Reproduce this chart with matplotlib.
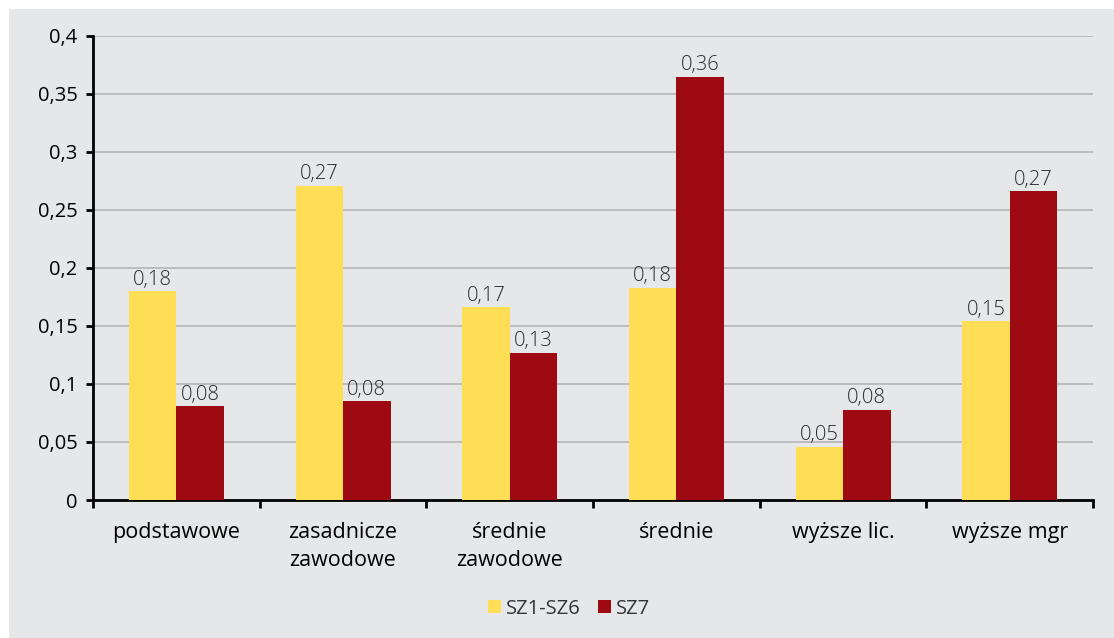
import matplotlib
matplotlib.use("Agg")
import matplotlib.pyplot as plt
import numpy as np
from matplotlib.patches import Rectangle

categories = ["podstawowe", "zasadnicze\nzawodowe", "średnie\nzawodowe", "średnie", "wyższe lic.", "wyższe mgr"]
sz1_sz6 = [0.180, 0.271, 0.166, 0.183, 0.046, 0.154]
sz7 = [0.081, 0.085, 0.127, 0.365, 0.078, 0.266]
sz1_sz6_labels = ["0,18", "0,27", "0,17", "0,18", "0,05", "0,15"]
sz7_labels = ["0,08", "0,08", "0,13", "0,36", "0,08", "0,27"]
yticks = [0, 0.05, 0.1, 0.15, 0.2, 0.25, 0.3, 0.35, 0.4]
ytick_labels = ["0", "0,05", "0,1", "0,15", "0,2", "0,25", "0,3", "0,35", "0,4"]

bg = "#e6e7e9"
yellow = "#ffdd55"
red = "#9e0a11"

plt.rcParams["font.family"] = ["Open Sans", "DejaVu Sans"]

fig = plt.figure(figsize=(11.14, 6.38), dpi=100)
fig.patch.set_facecolor("white")
fig.patches.append(Rectangle((9 / 1114, 0), 1 - 9 / 1114, 1 - 9 / 638,
                             transform=fig.transFigure, facecolor=bg,
                             edgecolor="none", zorder=-10))
ax = fig.add_axes([93 / 1114, 1 - 500 / 638, 1000 / 1114, 464 / 638])
ax.set_facecolor(bg)

x = np.arange(len(categories))
w = 0.285
b1 = ax.bar(x - w / 2, sz1_sz6, w, color=yellow, label="SZ1-SZ6", zorder=3)
b2 = ax.bar(x + w / 2, sz7, w, color=red, label="SZ7", zorder=3)

for bars, labs in ((b1, sz1_sz6_labels), (b2, sz7_labels)):
    for bar, lab in zip(bars, labs):
        ax.annotate(lab, (bar.get_x() + bar.get_width() / 2, bar.get_height()),
                    xytext=(0, 1), textcoords="offset points",
                    ha="center", va="bottom", fontsize=14.5, color="#2a2a2a",
                    fontweight="light")

ax.set_xlim(-0.5, len(categories) - 0.5)
ax.set_ylim(0, 0.4)
ax.set_yticks(yticks)
ax.set_yticklabels(ytick_labels, fontsize=14.5)
ax.yaxis.grid(True, color="#b5b5b5", linewidth=1.2, zorder=0)
ax.set_axisbelow(True)

ax.set_xticks(x)
ax.set_xticklabels(categories, fontsize=15.5, linespacing=1.4)
ax.tick_params(axis="x", length=0, pad=16)
ax.set_xticks(np.arange(-0.5, len(categories)), minor=True)
ax.tick_params(axis="x", which="minor", length=6, width=2, direction="out")
ax.tick_params(axis="y", length=5, width=2, pad=6)

for s in ("top", "right"):
    ax.spines[s].set_visible(False)
for s in ("left", "bottom"):
    ax.spines[s].set_linewidth(2)
    ax.spines[s].set_color("black")

ax.legend(loc="center", bbox_to_anchor=(0.476, -0.234), ncol=2, frameon=False,
          fontsize=14.5, handlelength=0.65, handleheight=0.65, handletextpad=0.2,
          columnspacing=0.9, labelcolor="#333333")

fig.savefig("out.png", dpi=100)
